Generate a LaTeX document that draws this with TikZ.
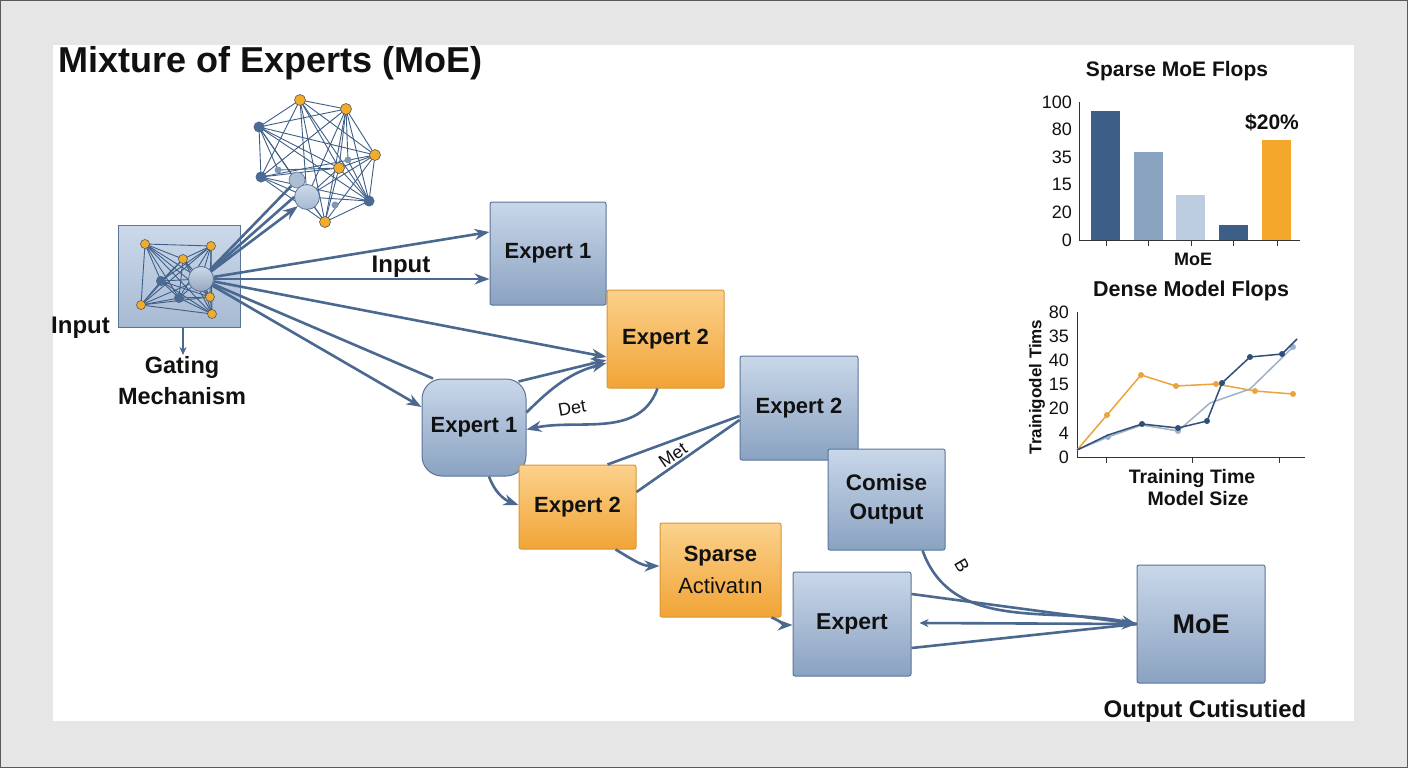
\documentclass[tikz,border=0pt]{standalone}
\usepackage{fontspec}
\setmainfont{Liberation Sans}
\usetikzlibrary{arrows.meta}
\definecolor{bggray}{HTML}{E6E6E6}
\definecolor{frame}{HTML}{5A5A5A}
\definecolor{btop}{HTML}{C9D7E9}
\definecolor{bbot}{HTML}{8AA2C1}
\definecolor{bborder}{HTML}{5B7598}
\definecolor{otop}{HTML}{FBD18C}
\definecolor{obot}{HTML}{F1A436}
\definecolor{oborder}{HTML}{DB9634}
\definecolor{gtop}{HTML}{CCD9EA}
\definecolor{gbot}{HTML}{A7BAD3}
\definecolor{wirec}{HTML}{4A6890}
\definecolor{netc}{HTML}{3F5F86}
\definecolor{ydotc}{HTML}{F2AC2C}
\definecolor{ydotb}{HTML}{5A5A5A}
\definecolor{bdotc}{HTML}{4C6B93}
\definecolor{txt}{HTML}{111111}
\definecolor{axisc}{HTML}{333333}
\definecolor{barA}{HTML}{3D5F87}
\definecolor{barB}{HTML}{8AA3C1}
\definecolor{barC}{HTML}{BCCDE0}
\definecolor{barO}{HTML}{F3A629}
\definecolor{lnO}{HTML}{E9A53C}
\definecolor{lnB}{HTML}{2F4F78}
\definecolor{lnL}{HTML}{9FB1C8}
\newcommand{\fsz}[2]{\fontsize{#1}{#2}\selectfont}
\tikzset{
  box/.style={draw=bborder, line width=1pt, rounded corners=2pt, align=center,
    inner sep=2pt, font=\fsz{22}{27}\bfseries, text=txt},
  bluebox/.style={box, top color=btop, bottom color=bbot},
  orbox/.style={box, top color=otop, bottom color=obot, draw=oborder},
  wire/.style={draw=wirec, line width=2.6pt},
  arrw/.style={wire, -{Stealth[length=15pt,width=11pt]}},
  netl/.style={draw=netc, line width=0.9pt},
  ydot/.style={circle, fill=ydotc, draw=ydotb, line width=0.6pt, inner sep=0pt, minimum size=9pt},
  bdot/.style={circle, fill=bdotc, inner sep=0pt, minimum size=10pt},
  sdot/.style={circle, fill=bdotc!70, inner sep=0pt, minimum size=7pt},
  lbl/.style={font=\fsz{24}{29}\bfseries, text=txt, inner sep=1pt},
  small/.style={font=\fsz{18}{20}, text=txt, inner sep=0pt},
  tick/.style={font=\fsz{18}{20}, text=txt, inner sep=1pt, anchor=east},
  axisl/.style={draw=axisc, line width=1pt},
}
\begin{document}
\begin{tikzpicture}[x=1pt,y=-1pt]
\useasboundingbox (0,0) rectangle (1408,768);
\fill[bggray] (0,0) rectangle (1408,768);
\draw[frame, line width=2pt] (0,0) rectangle (1408,768);
\fill[white] (53,45) rectangle (1354,721);

% title
\node[anchor=base west, font=\fsz{36}{40}\bfseries, text=txt, inner sep=0pt] (title) at (58,73) {Mixture of Experts (MoE)};

% gating box
\node[draw=bborder, line width=1pt, top color=gtop, bottom color=gbot, minimum width=122pt, minimum height=102pt, inner sep=0pt] (gate) at (179,276) {};
\coordinate (p1) at (145,244); \coordinate (p2) at (211,246); \coordinate (p3) at (183,259);
\coordinate (p4) at (141,305); \coordinate (p5) at (210,297); \coordinate (p6) at (212,314);
\coordinate (p7) at (161,281); \coordinate (p8) at (179,298); \coordinate (p9) at (201,279);
\foreach \i in {1,...,9}{\foreach \j in {1,...,9}{\ifnum\i<\j \draw[netl] (p\i) -- (p\j);\fi}}
\node[bdot] (gd7) at (p7) {}; \node[bdot] (gd8) at (p8) {};
\foreach \k in {1,...,6}{\node[ydot] (gy\k) at (p\k) {};}
\node[circle, draw=bborder, line width=0.8pt, top color=gtop, bottom color=gbot!90!black, minimum size=25pt, inner sep=0pt] (hub) at (p9) {};

% cluster network
\coordinate (c1) at (300,100); \coordinate (c2) at (346,109); \coordinate (c3) at (375,155);
\coordinate (c4) at (339,168); \coordinate (c5) at (325,222); \coordinate (c6) at (259,127);
\coordinate (c7) at (261,177); \coordinate (c8) at (369,201); \coordinate (c9) at (307,197);
\foreach \i in {1,...,9}{\foreach \j in {1,...,9}{\ifnum\i<\j \draw[netl] (c\i) -- (c\j);\fi}}
\draw[netl] (c6) -- (278,170) -- (c4); \draw[netl] (c2) -- (348,160) -- (c8);
\node[sdot] (cs1) at (278,170) {}; \node[sdot] (cs2) at (348,160) {}; \node[sdot] (cs3) at (335,205) {};
\foreach \k in {6,7,8}{\node[bdot, minimum size=11pt] (cb\k) at (c\k) {};}
\foreach \k in {1,...,5}{\node[ydot, minimum size=11pt] (cy\k) at (c\k) {};}
\node[circle, fill=bbot!70, draw=bborder, line width=0.6pt, minimum size=16pt, inner sep=0pt] (cgray) at (297,180) {};
\node[circle, draw=bborder, line width=0.8pt, top color=gtop, bottom color=gbot, minimum size=25pt, inner sep=0pt] (cbig) at (c9) {};

% expert boxes
\node[bluebox, minimum width=116pt, minimum height=103pt] (e1t) at (548,253.5) {Expert 1};
\node[orbox, minimum width=117pt, minimum height=98pt] (e2t) at (665.5,339) {Expert 2};
\node[bluebox, rounded corners=20pt, minimum width=104pt, minimum height=97pt] (e1r) at (474,427.5) {Expert 1};
\node[bluebox, minimum width=118pt, minimum height=104pt] (e2b) at (799,408) {Expert 2};
\node[orbox, minimum width=117pt, minimum height=84pt] (e2o) at (577.5,507) {Expert 2};
\node[orbox, minimum width=121pt, minimum height=94pt, font=\fsz{22}{32}] (sp) at (720.5,570) {\textbf{Sparse}\\Activatın};
\node[bluebox, minimum width=117pt, minimum height=101pt, font=\fsz{22.5}{29}\bfseries] (co) at (886.5,499.5) {Comise\\Output};
\node[bluebox, minimum width=118pt, minimum height=104pt, font=\fsz{23}{27}\bfseries] (ex) at (852,624) {Expert};
\node[bluebox, minimum width=128pt, minimum height=118pt, font=\fsz{27}{30}\bfseries] (moe) at (1201,624) {MoE};

% labels
\node[lbl, anchor=base west] (inl) at (50,333) {Input};
\node[lbl, align=center, font=\fsz{23.5}{31}\bfseries, anchor=north] (gtxt) at (182,355) {Gating\\Mechanism};
\node[lbl, anchor=base] (inm) at (401,272) {Input};
\node[lbl, anchor=base] (outl) at (1205,717) {Output Cutisutied};
\node[small, rotate=10] (det) at (572,408) {Det};
\node[small, rotate=35] (met) at (673,455) {Met};
\node[small, rotate=-60] (bl) at (962,566) {B};

% connectors
\draw[wire, -{Stealth[length=8pt,width=7pt]}] ([xshift=4pt]gate.south) -- ([xshift=1pt]gtxt.north);
\draw[wire] (hub) -- (cgray);
\draw[wire] (hub) -- (cbig.west);
\draw[arrw] (hub) -- (cbig.south west);
\draw[arrw] (hub) -- ([yshift=21.5pt]e1t.west);
\draw[arrw] (hub) -- ([yshift=-25.5pt]e1t.west);
\draw[arrw] (hub) -- ([yshift=-18pt]e2t.west);
\draw[arrw] (hub) -- ([yshift=20.5pt]e1r.west);
\draw[wire] (hub) -- ([xshift=-41pt]e1r.north);
\draw[arrw] ([xshift=-8pt,yshift=-3pt]e1r.north east) -- ([yshift=-21pt]e2t.west);
\draw[arrw] ([yshift=15pt]e1r.east) to[out=45,in=195] ([yshift=-24pt]e2t.west);
\draw[arrw] ([xshift=-8pt]e2t.south) to[out=-110,in=12] ([yshift=-2pt]e1r.east);
\draw[arrw] ([xshift=15pt]e1r.south) to[out=-70,in=160] ([yshift=2pt]e2o.west);
\draw[wire] ([yshift=-8pt]e2b.west) -- ([xshift=30pt]e2o.north);
\draw[wire] ([yshift=-12pt]e2b.west) -- ([yshift=15pt]e2o.east);
\draw[arrw] ([xshift=38pt]e2o.south) to[out=-30,in=180] ([yshift=4pt]sp.west);
\draw[arrw] ([xshift=51pt]sp.south) to[out=-20,in=180] ([yshift=-1pt]ex.west);
\draw[arrw] ([xshift=36pt]co.south) to[out=-70,in=168] (moe.west);
\draw[wire] ([yshift=30pt]ex.east) -- (moe.west);
\draw[wire] ([yshift=-24pt]ex.east) -- (moe.west);
\draw[wire, {Stealth[length=9pt,width=8pt]}-] ([xshift=8pt,yshift=1pt]ex.east) -- (moe.west);
\draw[arrw] ([xshift=-60pt]moe.west) -- (moe.west);

% bar chart
\node[font=\fsz{21}{24}\bfseries, text=txt, anchor=base, inner sep=0pt] (bt) at (1177,77) {Sparse MoE Flops};
\fill[barA] (1091,111) rectangle (1120,240);
\fill[barB] (1134,152) rectangle (1163,240);
\fill[barC] (1176,195) rectangle (1205,240);
\fill[barA] (1219,225) rectangle (1248,240);
\fill[barO] (1262,140) rectangle (1291,240);
\draw[axisl] (1079,102) -- (1079,240) -- (1300,240);
\foreach \x in {1106,1148,1191,1233,1277}{\draw[axisl] (\x,240) -- (\x,246);}
\foreach \v/\y in {100/102,80/129,35/157,15/184,20/212,0/240}{\node[tick] (bl\y) at (1073,\y) {\v};}
\node[font=\fsz{21}{24}\bfseries, text=txt, anchor=base, inner sep=0pt] (pct) at (1272,129) {\$20\%};
\node[font=\fsz{18}{20}\bfseries, text=txt, anchor=base, inner sep=0pt] (bx) at (1193,265) {MoE};

% line chart
\node[font=\fsz{21.5}{24}\bfseries, text=txt, anchor=base, inner sep=0pt] (lt) at (1191,296) {Dense Model Flops};
\draw[axisl] (1077,312) -- (1077,457) -- (1305,457);
\foreach \x in {1106,1192,1279}{\draw[axisl] (\x,457) -- (\x,463);}
\foreach \v/\y in {80/312,35/336,40/360,15/384,20/408,4/433,0/457}{\node[tick] (ll\y) at (1070,\y) {\v};}
\node[font=\fsz{17}{20}\bfseries, text=txt, rotate=90, inner sep=0pt] (ly) at (1037,387) {Trainigodel Tims};
\node[font=\fsz{19.5}{22}\bfseries, text=txt, anchor=base, inner sep=0pt] (lx1) at (1192,483) {Training Time};
\node[font=\fsz{19.5}{22}\bfseries, text=txt, anchor=base, inner sep=0pt] (lx2) at (1198,505) {Model Size};
\draw[lnL, line width=1.5pt] (1077,450) -- (1108,437) -- (1142,425) -- (1178,431) -- (1210,403) -- (1250,389) -- (1293,347);
\foreach \p in {(1108,437),(1178,431),(1293,347)}{\fill[lnL] \p circle (3pt);}
\draw[lnO, line width=1.5pt] (1077,450) -- (1107,415) -- (1141,375) -- (1176,386) -- (1216,384) -- (1255,391) -- (1293,394);
\foreach \p in {(1107,415),(1141,375),(1176,386),(1216,384),(1255,391),(1293,394)}{\fill[lnO] \p circle (3pt);}
\draw[lnB, line width=1.5pt] (1077,450) -- (1108,435) -- (1142,424) -- (1178,428) -- (1207,421) -- (1222,383) -- (1250,357) -- (1282,354) -- (1297,339);
\foreach \p in {(1142,424),(1178,428),(1207,421),(1222,383),(1250,357),(1282,354)}{\fill[lnB] \p circle (3pt);}
\end{tikzpicture}
\end{document}
